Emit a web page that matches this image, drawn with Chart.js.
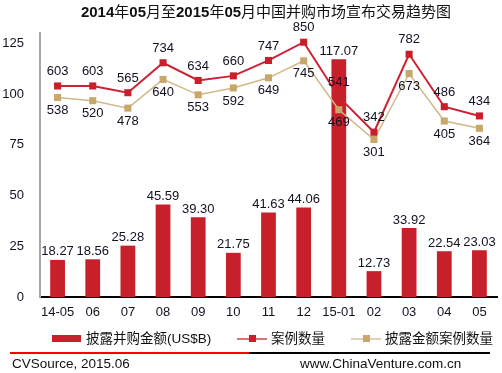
<!DOCTYPE html>
<html>
<head>
<meta charset="utf-8">
<script src="https://cdn.jsdelivr.net/npm/chart.js@4.4.1/dist/chart.umd.min.js"></script>
<style>
  body { margin: 0; background: #fff; }
  #wrap { position: relative; width: 502px; height: 373px; overflow: hidden;
          font-family: "Liberation Sans", Arial, "Noto Sans CJK SC", sans-serif; color: #111; }
  #chart { position: absolute; left: 0; top: 0; }
  .abs { position: absolute; white-space: nowrap; }
  #title { left: 0; top: 3px; width: 502px; padding-left: 30px; box-sizing: border-box;
           text-align: center; font-size: 15px; line-height: 18px; font-family: "Liberation Sans", "Noto Sans CJK SC", sans-serif; }
  .leg { font-size: 13.5px; line-height: 16px; top: 331px; }
  .foot { font-size: 13.5px; line-height: 16px; top: 356px; }
</style>
</head>
<body>
<div id="wrap">
  <canvas id="chart" width="502" height="373"></canvas>
  <div id="title" class="abs"><b>2014</b>年<b>05</b>月至<b>2015</b>年<b>05</b>月中国并购市场宣布交易趋势图</div>

  <!-- legend -->
  <div class="abs" style="left:52px;top:335px;width:29px;height:7px;background:#C8202A"></div>
  <div class="abs leg" style="left:86px">披露并购金额(US$B)</div>
  <div class="abs" style="left:237px;top:338px;width:30px;height:2px;background:#D87474"></div>
  <div class="abs" style="left:249px;top:335px;width:7px;height:7px;background:#C8202A"></div>
  <div class="abs leg" style="left:271px">案例数量</div>
  <div class="abs" style="left:351px;top:338px;width:30px;height:2px;background:#E2D3B8"></div>
  <div class="abs" style="left:363px;top:335px;width:7px;height:7px;background:#C8A86A"></div>
  <div class="abs leg" style="left:385px">披露金额案例数量</div>

  <!-- footer -->
  <div class="abs" style="left:10px;top:352px;width:239px;height:2px;background:#FF0000"></div>
  <div class="abs" style="left:249px;top:352px;width:241px;height:2px;background:#000"></div>
  <div class="abs foot" style="left:12px">CVSource, 2015.06</div>
  <div class="abs foot" style="left:300px">www.ChinaVenture.com.cn</div>
</div>

<script>
// --- Data ---
const months = ['14-05', '06', '07', '08', '09', '10', '11', '12', '15-01', '02', '03', '04', '05'];
const dealValue = [18.27, 18.56, 25.28, 45.59, 39.30, 21.75, 41.63, 44.06, 117.07, 12.73, 33.92, 22.54, 23.03];
const dealCount = [603, 603, 565, 734, 634, 660, 747, 850, 541, 342, 782, 486, 434];
const disclosedCount = [538, 520, 478, 640, 553, 592, 649, 745, 469, 301, 673, 405, 364];
const leftTicks = [0, 25, 50, 75, 100, 125];

const TEXT = '#111122';

// --- Value labels (no datalabels plugin available) ---
const valueLabels = {
    id: 'valueLabels',
    afterDatasetsDraw(chart) {
        const ctx = chart.ctx;
        ctx.save();
        ctx.font = '13px "Liberation Sans", Arial, sans-serif';
        ctx.fillStyle = TEXT;
        ctx.textAlign = 'center';
        ctx.textBaseline = 'middle';
        chart.data.datasets.forEach((ds, i) => {
            const meta = chart.getDatasetMeta(i);
            meta.data.forEach((el, j) => {
                const v = ds.data[j];
                const txt = ds.type === 'bar' ? v.toFixed(2) : String(v);
                ctx.fillText(txt, el.x, el.y + ds.labelOffset);
            });
        });
        ctx.restore();
    }
};

new Chart(document.getElementById('chart'), {
    data: {
        labels: months,
        datasets: [
            {
                type: 'line',
                label: '案例数量',
                data: dealCount,
                yAxisID: 'y1',
                borderColor: '#CC2232',
                borderWidth: 2,
                pointStyle: 'rect',
                pointRadius: 5,
                pointBackgroundColor: '#C8202A',
                pointBorderWidth: 0,
                tension: 0,
                labelOffset: -14.5
            },
            {
                type: 'line',
                label: '披露金额案例数量',
                data: disclosedCount,
                yAxisID: 'y1',
                borderColor: '#D2B888',
                borderWidth: 1.5,
                pointStyle: 'rect',
                pointRadius: 5,
                pointBackgroundColor: '#C8A86A',
                pointBorderWidth: 0,
                tension: 0,
                labelOffset: 13
            },
            {
                type: 'bar',
                label: '披露并购金额(US$B)',
                data: dealValue,
                yAxisID: 'y',
                backgroundColor: '#C8202A',
                barPercentage: 0.42,
                categoryPercentage: 1,
                labelOffset: -8
            }
        ]
    },
    options: {
        responsive: false,
        animation: false,
        devicePixelRatio: 1,
        layout: { padding: { left: 0, right: 2, top: 33, bottom: 52 } },
        plugins: { legend: { display: false }, tooltip: { enabled: false } },
        scales: {
            x: {
                grid: { display: false, drawTicks: false },
                border: { display: true, color: '#000', width: 2 },
                ticks: { color: TEXT, font: { size: 13, family: '"Liberation Sans", Arial' }, padding: 8,
                         maxRotation: 0, minRotation: 0, autoSkip: false },
                afterFit: s => { s.height = 24; }
            },
            y: {
                position: 'left',
                min: 0,
                max: 130,
                grid: { display: false, drawTicks: false },
                border: { display: true, color: '#A6A6A6', width: 2 },
                ticks: { color: TEXT, font: { size: 13, family: '"Liberation Sans", Arial' }, padding: 16 },
                afterBuildTicks: s => { s.ticks = leftTicks.map(v => ({ value: v })); },
                afterFit: s => { s.width = 40; }
            },
            y1: {
                display: false,
                min: -588,
                max: 902
            }
        }
    },
    plugins: [valueLabels]
});
</script>
</body>
</html>
